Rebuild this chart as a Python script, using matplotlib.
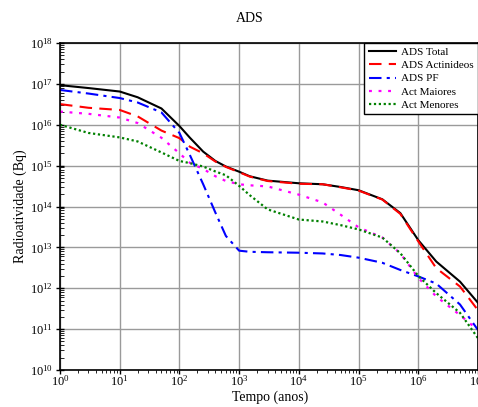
import numpy as np
import matplotlib
matplotlib.use("Agg")
import matplotlib.pyplot as plt
from matplotlib.ticker import LogLocator, LogFormatterMathtext, NullFormatter

plt.rcParams['font.family'] = ['Liberation Serif', 'DejaVu Serif']
plt.rcParams['mathtext.fontset'] = 'stix'

# time grid (anos)
tempo = [1, 3, 10, 20, 50, 100, 150, 250, 400, 600, 1e3, 1.5e3, 3e3, 1e4,
         2.5e4, 5e4, 1e5, 2.5e5, 5e5, 1e6, 2e6, 5e6, 1e7]

# radioatividade (Bq)
ads_total = [9.3e16, 7.9e16, 6.5e16, 4.7e16, 2.5e16, 9.3e15, 4.8e15, 2.2e15,
             1.3e15, 9.5e14, 7.1e14, 5.5e14, 4.3e14, 3.7e14, 3.5e14, 3.0e14,
             2.5e14, 1.5e14, 6.9e13, 1.5e13, 4.5e12, 1.45e12, 4.4e11]
ads_actinideos = [3.2e16, 2.6e16, 2.3e16, 1.6e16, 7.2e15, 4.7e15, 2.9e15, 2.0e15,
                  1.26e15, 9.3e14, 6.9e14, 5.4e14, 4.2e14, 3.6e14, 3.5e14, 2.95e14,
                  2.45e14, 1.48e14, 6.6e13, 1.4e13, 3.1e12, 1.1e12, 2.9e11]
ads_pf = [7.1e16, 5.8e16, 4.5e16, 3.5e16, 2.0e16, 6.3e15, 1.8e15, 3.5e14,
          7.1e13, 1.9e13, 8.3e12, 7.8e12, 7.6e12, 7.4e12, 7.1e12, 6.5e12,
          5.6e12, 4.2e12, 2.8e12, 1.95e12, 1.3e12, 4.0e11, 9.5e10]
act_maiores = [2.1e16, 1.85e16, 1.5e16, 1.1e16, 4.8e15, 2.0e15, 1.17e15, 8.3e14,
               5.5e14, 4.2e14, 3.5e14, 3.3e14, 3.1e14, 1.95e14, 1.26e14, 6.3e13,
               3.1e13, 1.74e13, 7.1e12, 1.8e12, 6.3e11, 2.2e11, 9.5e10]
act_menores = [1.0e16, 6.3e15, 4.9e15, 3.9e15, 2.1e15, 1.3e15, 1.15e15, 9.5e14,
               7.2e14, 5.8e14, 3.2e14, 1.9e14, 8.5e13, 4.8e13, 4.3e13, 3.5e13,
               2.75e13, 1.74e13, 7.2e12, 2.0e12, 7.6e11, 2.5e11, 6.0e10]

fig = plt.figure(figsize=(4.78, 4.07), dpi=100)
ax = fig.add_axes([60 / 478, 1 - 370 / 407, 418 / 478, 327 / 407])

ax.plot(tempo, ads_total, color='black', lw=1.5, label='ADS Total')
ax.plot(tempo, ads_actinideos, color='red', lw=1.5, dashes=(6, 3.5), label='ADS Actinideos')
ax.plot(tempo, ads_pf, color='blue', lw=1.5, dashes=(6, 2.5, 1.5, 2.5), label='ADS PF')
ax.plot(tempo, act_maiores, color='magenta', lw=1.6, dashes=(1.3, 3), label='Act Maiores')
ax.plot(tempo, act_menores, color='green', lw=1.6, dashes=(1, 1.2), label='Act Menores')

ax.set_xscale('log')
ax.set_yscale('log')
ax.set_xlim(1, 1e7)
ax.set_ylim(1e10, 1e18)

ax.xaxis.set_major_locator(LogLocator(base=10, numticks=20))
ax.yaxis.set_major_locator(LogLocator(base=10, numticks=20))
ax.xaxis.set_minor_locator(LogLocator(base=10, subs=np.arange(2, 10), numticks=100))
ax.yaxis.set_minor_locator(LogLocator(base=10, subs=np.arange(2, 10), numticks=100))
ax.xaxis.set_major_formatter(LogFormatterMathtext())
ax.yaxis.set_major_formatter(LogFormatterMathtext())
ax.xaxis.set_minor_formatter(NullFormatter())
ax.yaxis.set_minor_formatter(NullFormatter())

ax.tick_params(axis='both', which='major', labelsize=9, width=1, color='black')
ax.tick_params(axis='x', which='major', direction='out', length=3, pad=0)
ax.tick_params(axis='x', which='minor', direction='out', length=2.5)
ax.tick_params(axis='y', which='major', direction='inout', length=6, pad=2)
ax.tick_params(axis='y', which='minor', direction='in', length=3)

ax.grid(True, which='major', color='#9a9a9a', lw=1)
for s in ax.spines.values():
    s.set_linewidth(1.2)

leg = ax.legend(loc='upper right', fontsize=8, frameon=True, fancybox=False,
                borderaxespad=0, handlelength=2.5, labelspacing=0.3,
                borderpad=0.4, handletextpad=0.4)
leg.get_frame().set_edgecolor('black')
leg.get_frame().set_linewidth(1.0)
leg.get_frame().set_alpha(1)

fig.text(250 / 478, 1 - 18 / 407, 'ADS', ha='center', va='center', fontsize=10)
fig.text(270 / 478, 1 - 397 / 407, 'Tempo (anos)', ha='center', va='center', fontsize=10)
fig.text(20 / 478, 1 - 206 / 407, 'Radioatividade (Bq)', ha='center', va='center',
         rotation=90, fontsize=10)

fig.savefig('out.png', dpi=100)
